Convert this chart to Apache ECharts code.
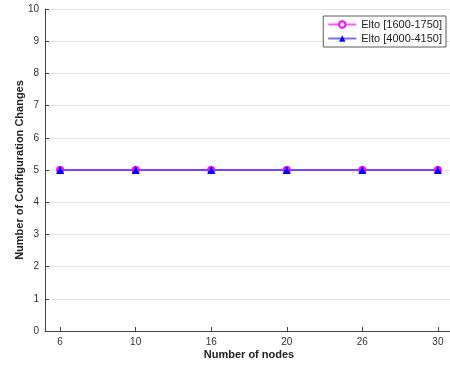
<!DOCTYPE html>
<html><head><meta charset="utf-8">
<script src="https://cdn.jsdelivr.net/npm/echarts@6/dist/echarts.min.js"></script>
<style>html,body{margin:0;padding:0;background:#fff}#c{width:450px;height:365px}</style>
</head><body><div id="c"></div>
<script>
var categories = ['6', '10', '16', '20', '26', '30'];
var seriesNames = ['Elto [1600-1750]', 'Elto [4000-4150]'];
var valuesA = [5, 5, 5, 5, 5, 5];
var valuesB = [5, 5, 5, 5, 5, 5];
var yTicks = [0,1,2,3,4,5,6,7,8,9,10];

var positions = categories.map(function(c, i){ return i + 1; });
function pairs(vals){ return vals.map(function(v, i){ return [positions[i], v]; }); }
var font = '"Liberation Sans", Arial, Helvetica, sans-serif';
var chart = echarts.init(document.getElementById('c'));
chart.setOption({
  animation: false,
  textStyle: {fontFamily: font},
  grid: {left: 45, top: 9, width: 408, bottom: 34, containLabel: false, outerBoundsMode: 'none'},
  xAxis: {
    type: 'value', min: 0.8, max: 6.2,
    name: 'Number of nodes', nameLocation: 'middle', nameGap: 18, nameMoveOverlap: false,
    nameTextStyle: {fontWeight: 'bold', fontSize: 11, color: '#222', fontFamily: font},
    axisLine: {onZero: false, lineStyle: {color: '#444', width: 1}},
    axisTick: {inside: true, length: 4, lineStyle: {color: '#444'}, customValues: positions},
    axisLabel: {fontSize: 10, color: '#333', margin: 6, customValues: positions,
      formatter: function(v){ var i = Math.round(v) - 1; return categories[i] !== undefined ? categories[i] : ''; }},
    splitLine: {show: false}
  },
  yAxis: {
    type: 'value', min: 0, max: 10, interval: 1,
    name: 'Number of Configuration Changes', nameLocation: 'middle', nameGap: 20, nameMoveOverlap: false,
    nameTextStyle: {fontWeight: 'bold', fontSize: 11, color: '#222', fontFamily: font},
    axisLine: {show: true, lineStyle: {color: '#444', width: 1}},
    axisTick: {show: true, inside: true, length: 4, lineStyle: {color: '#444'}},
    axisLabel: {fontSize: 10, color: '#333', margin: 6,
      formatter: function(v){ return yTicks.indexOf(v) >= 0 ? String(v) : ''; }},
    splitLine: {show: true, lineStyle: {color: '#e4e4e4', width: 1}}
  },
  legend: {
    right: 4, top: 16, orient: 'vertical',
    backgroundColor: '#fff', borderColor: '#333', borderWidth: 0.8,
    padding: [3, 4, 3, 4], itemGap: 3, itemWidth: 28, itemHeight: 8,
    textStyle: {fontSize: 11, color: '#222', fontFamily: font},
    data: seriesNames
  },
  series: [
    {name: seriesNames[0], type: 'line', data: pairs(valuesA),
     symbol: 'emptyCircle', symbolSize: 6,
     itemStyle: {color: '#ff00ff', borderColor: '#ff00ff', borderWidth: 1.5},
     lineStyle: {color: '#ff55ff', width: 2}},
    {name: seriesNames[1], type: 'line', data: pairs(valuesB),
     symbol: 'triangle', symbolSize: 8,
     itemStyle: {color: '#0000ff'},
     lineStyle: {color: '#4b3cff', width: 2, opacity: 0.75}}
  ]
});
</script></body></html>
